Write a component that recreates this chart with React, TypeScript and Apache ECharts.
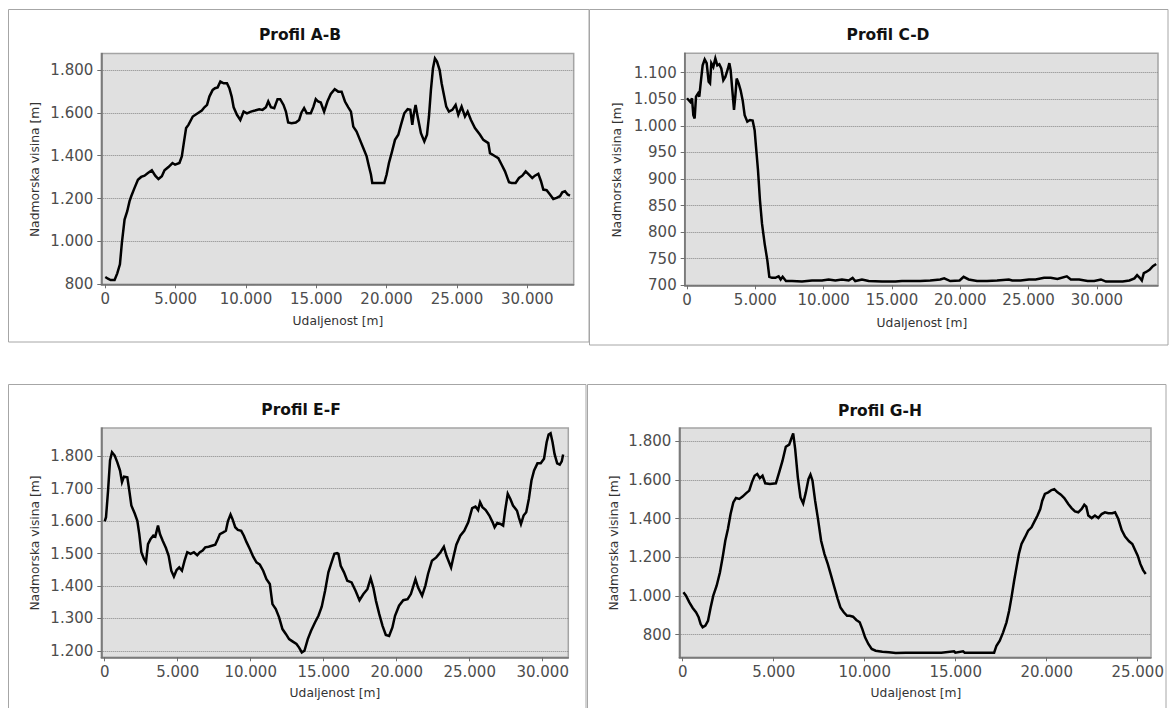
import React, { useEffect, useRef } from "react";
import * as echarts from "echarts";

// ---------- DATA ----------
const abDist = [0,190,380,660,850,1040,1180,1370,1560,1725,1845,2080,2320,2550,2790,3030,3310,3550,3780,4020,4210,4490,4775,4965,5270,5440,5580,5745,5910,6220,6570,6860,7045,7235,7400,7635,7800,7990,8180,8415,8650,8820,8985,9125,9360,9600,9835,10070,10355,10640,10945,11180,11420,11585,11775,12010,12245,12435,12670,12840,13000,13240,13545,13780,13950,14135,14325,14610,14800,14965,15130,15320,15555,15790,16030,16310,16560,16800,17040,17275,17465,17630,17865,18105,18340,18580,18745,18885,18980,19405,19835,20000,20165,20355,20595,20830,21020,21255,21495,21685,21825,21920,22060,22205,22440,22680,22870,23010,23150,23295,23435,23580,23770,23910,24050,24240,24430,24670,24905,25095,25330,25570,25760,25995,26280,26640,26875,27230,27350,27655,27940,28180,28415,28700,28885,29170,29410,29645,29885,30120,30355,30545,30785,30975,31140,31375,31615,31850,32085,32325,32490,32680,32870,33035];
const abElev = [834,826,820,820,851,893,994,1102,1141,1188,1211,1250,1288,1301,1307,1319,1332,1307,1291,1304,1332,1347,1366,1358,1366,1397,1459,1529,1544,1583,1598,1611,1626,1637,1676,1707,1715,1719,1746,1738,1738,1715,1676,1626,1591,1567,1606,1598,1606,1611,1617,1614,1626,1653,1626,1622,1664,1664,1637,1606,1555,1552,1555,1567,1602,1622,1598,1598,1629,1664,1653,1648,1606,1653,1688,1710,1699,1699,1653,1626,1606,1536,1513,1474,1436,1397,1350,1312,1273,1273,1273,1312,1366,1412,1474,1498,1544,1598,1617,1614,1544,1591,1637,1583,1505,1467,1498,1583,1707,1808,1854,1839,1800,1738,1691,1629,1606,1614,1637,1591,1629,1583,1606,1567,1529,1498,1474,1459,1412,1400,1389,1358,1327,1276,1273,1273,1296,1307,1327,1312,1296,1307,1316,1281,1242,1239,1219,1198,1203,1211,1229,1234,1219,1214];

const cdDist = [0,245,365,465,560,660,805,900,1000,1145,1295,1440,1585,1685,1780,1925,2075,2220,2365,2510,2660,2805,3000,3100,3195,3295,3440,3535,3635,3780,3925,4075,4220,4415,4610,4805,4950,5050,5195,5340,5490,5685,5880,6025,6220,6465,6705,6855,7000,7245,7685,8415,9145,9880,10365,10855,11340,11830,12120,12315,12805,13295,14270,15245,15730,17060,17795,18530,18825,19265,19950,20245,20615,21225,21960,22695,23555,23800,24410,25025,25515,26130,26620,27110,27795,28090,28700,29315,29805,30295,30660,31275,31885,32375,32745,32940,33135,33285,33430,33605,33850,34095,34340];
const cdElev = [1052,1045,1052,1020,1014,1055,1061,1055,1080,1114,1125,1118,1083,1080,1118,1111,1127,1114,1116,1108,1086,1092,1108,1118,1105,1074,1030,1055,1089,1080,1067,1048,1020,1008,1011,1010,992,961,917,860,816,778,747,716,714,714,717,711,716,708,708,707,709,709,711,709,711,709,714,708,711,708,707,707,708,708,709,711,713,708,709,716,711,708,708,709,711,709,709,711,711,714,714,712,717,711,711,708,708,711,707,707,707,709,713,719,714,709,723,725,729,736,740];

const efDist = [0,90,230,365,500,685,865,1050,1185,1320,1550,1685,1825,2050,2235,2370,2510,2690,2825,2965,3145,3330,3465,3650,3785,3965,4195,4380,4560,4740,4925,5105,5290,5470,5655,5880,6110,6340,6520,6705,6885,7115,7340,7570,7750,7890,8115,8300,8435,8620,8755,8940,9120,9350,9530,9715,9940,10170,10395,10625,10855,11080,11310,11490,11720,11945,12175,12405,12630,12860,13135,13315,13500,13680,13910,14135,14410,14640,14865,15095,15320,15505,15730,15915,16005,16165,16390,16615,16910,17180,17450,17720,17990,18215,18400,18580,18805,19030,19255,19480,19705,19885,20160,20450,20745,20970,21130,21285,21465,21740,21965,22145,22415,22710,23000,23230,23410,23725,23905,24085,24355,24625,24900,25170,25395,25575,25710,25870,26095,26345,26570,26705,26885,27110,27290,27425,27605,27785,27965,28240,28375,28510,28690,28870,29050,29230,29410,29640,29865,30090,30270,30405,30540,30675,30810,30990,31170,31305,31400];
const efElev = [1599,1612,1694,1787,1812,1802,1781,1756,1720,1737,1735,1694,1648,1624,1601,1560,1504,1483,1473,1529,1545,1555,1552,1586,1560,1540,1517,1493,1447,1429,1449,1457,1447,1478,1504,1499,1504,1495,1504,1509,1519,1521,1524,1527,1545,1560,1565,1570,1599,1620,1606,1581,1573,1570,1555,1535,1514,1490,1473,1466,1447,1421,1406,1344,1329,1303,1267,1252,1236,1229,1221,1210,1195,1200,1236,1262,1288,1308,1336,1385,1442,1468,1499,1501,1499,1462,1442,1416,1411,1385,1356,1375,1390,1424,1395,1354,1313,1277,1249,1246,1272,1308,1339,1356,1359,1375,1398,1421,1395,1370,1401,1437,1478,1488,1504,1521,1493,1457,1493,1527,1555,1570,1596,1640,1645,1634,1658,1643,1634,1617,1596,1581,1594,1591,1586,1632,1684,1668,1648,1632,1610,1591,1617,1627,1668,1725,1756,1778,1778,1792,1843,1867,1871,1843,1807,1778,1774,1784,1805];

const ghDist = [40,180,365,550,730,875,985,1095,1245,1390,1535,1680,1865,2045,2195,2340,2485,2630,2780,2925,3110,3290,3475,3655,3800,3950,4095,4240,4385,4535,4790,5120,5300,5485,5665,5850,5960,6070,6180,6325,6470,6620,6765,6910,7020,7130,7275,7420,7605,7790,7970,8155,8335,8520,8665,8850,9030,9175,9360,9540,9725,9870,10020,10200,10385,10600,10970,11335,11700,12250,12750,13480,14210,14910,14980,15405,15495,16415,17110,17240,17420,17605,17790,17935,18065,18210,18340,18470,18615,18800,18980,19165,19350,19495,19645,19755,19900,20085,20265,20415,20595,20780,20965,21185,21365,21550,21735,21920,22065,22175,22285,22470,22650,22835,23020,23200,23385,23605,23755,23935,24120,24305,24525,24705,24855,25000,25145,25295,25440];
const ghElev = [1019,1002,967,938,916,890,855,838,847,872,941,1002,1053,1122,1200,1286,1347,1424,1484,1507,1502,1514,1531,1545,1588,1622,1631,1610,1622,1583,1579,1583,1640,1700,1772,1783,1812,1841,1760,1614,1510,1479,1536,1605,1628,1597,1493,1407,1286,1217,1166,1105,1045,984,941,916,898,898,893,876,864,829,786,752,726,717,712,709,705,707,707,707,707,714,707,714,707,707,707,743,769,812,864,924,993,1079,1148,1217,1269,1303,1338,1355,1390,1416,1450,1493,1528,1536,1548,1553,1536,1524,1507,1476,1455,1438,1433,1450,1472,1462,1416,1403,1416,1403,1424,1433,1428,1428,1433,1398,1341,1307,1283,1269,1238,1209,1166,1134,1114];

const abYTicks = [800, 1000, 1200, 1400, 1600, 1800];
const cdYTicks = [700, 750, 800, 850, 900, 950, 1000, 1050, 1100];
const efYTicks = [1200, 1300, 1400, 1500, 1600, 1700, 1800];
const ghYTicks = [800, 1000, 1200, 1400, 1600, 1800];
const xTicks30 = [0, 5000, 10000, 15000, 20000, 25000, 30000];
const xTicks25 = [0, 5000, 10000, 15000, 20000, 25000];

const titles = ["Profil A-B", "Profil C-D", "Profil E-F", "Profil G-H"];
const yName = "Nadmorska visina [m]";
const xName = "Udaljenost [m]";

// ---------- LAYOUT ----------
const panels = [
  {
    title: titles[0], dist: abDist, elev: abElev, xTicks: xTicks30, yTicks: abYTicks,
    xMin: -284, xMax: 33300, yMin: 800, yMax: 1877,
    grid: { left: 101.3, top: 53.5, width: 472.4, height: 230.8 },
    frame: { x: 8.5, y: 9.5, width: 580.5, height: 332.5 },
    titlePos: [300, 35], yNamePos: [35, 169.5], xNamePos: [338, 321],
  },
  {
    title: titles[1], dist: cdDist, elev: cdElev, xTicks: xTicks30, yTicks: cdYTicks,
    xMin: -168, xMax: 34470, yMin: 700, yMax: 1136.6,
    grid: { left: 684.7, top: 53.3, width: 473.3, height: 232 },
    frame: { x: 589.5, y: 9.5, width: 578.5, height: 335.5 },
    titlePos: [888, 35], yNamePos: [617, 170], xNamePos: [922, 323],
  },
  {
    title: titles[2], dist: efDist, elev: efElev, xTicks: xTicks30, yTicks: efYTicks,
    xMin: -233, xMax: 31753, yMin: 1180, yMax: 1887,
    grid: { left: 101.3, top: 428, width: 467, height: 229.3 },
    frame: { x: 8.5, y: 384.5, width: 577.5, height: 340 },
    titlePos: [301, 410], yNamePos: [35, 543], xNamePos: [335, 693],
  },
  {
    title: titles[3], dist: ghDist, elev: ghElev, xTicks: xTicks25, yTicks: ghYTicks,
    xMin: -187, xMax: 25730, yMin: 683, yMax: 1869,
    grid: { left: 679.3, top: 428, width: 471.7, height: 229.3 },
    frame: { x: 587.5, y: 384.5, width: 578.5, height: 340 },
    titlePos: [880, 410.5], yNamePos: [614, 543], xNamePos: [916, 693],
  },
];

const FONT = '"DejaVu Sans", "Liberation Sans", Arial, sans-serif';
const fmt = (v: number) => String(Math.round(v)).replace(/\B(?=(\d{3})+(?!\d))/g, ".");

export default function App() {
  const ref = useRef<HTMLDivElement>(null);

  useEffect(() => {
    if (!ref.current) return;
    const chart = echarts.init(ref.current, undefined, { renderer: "svg" });

    const axisColor = "#6e6e6e";
    const labelStyle = { fontFamily: FONT, fontSize: 15, color: "#4d4d4d" };

    const grids = panels.map((p) => ({
      ...p.grid,
      show: true,
      backgroundColor: "#e0e0e0",
      borderColor: "#a4a4a4",
      borderWidth: 1.5,
      containLabel: false,
      outerBoundsMode: "none",
    }));

    const xAxes = panels.map((p, i) => ({
      type: "value",
      gridIndex: i,
      min: p.xMin,
      max: p.xMax,
      axisLine: { show: true, onZero: false, lineStyle: { color: axisColor, width: 1.5 } },
      axisTick: { show: true, customValues: p.xTicks, length: 4, lineStyle: { color: axisColor } },
      axisLabel: { ...labelStyle, customValues: p.xTicks, formatter: fmt, margin: 7 },
      splitLine: { show: false },
    }));

    const yAxes = panels.map((p, i) => ({
      type: "value",
      gridIndex: i,
      min: p.yMin,
      max: p.yMax,
      axisLine: { show: true, onZero: false, lineStyle: { color: axisColor, width: 1.5 } },
      axisTick: { show: true, customValues: p.yTicks, length: 4, lineStyle: { color: axisColor } },
      axisLabel: { ...labelStyle, customValues: p.yTicks, formatter: fmt, margin: 8 },
      splitLine: { show: true, lineStyle: { color: "#868686", type: "dotted", width: 1 } },
    }));

    const series = panels.map((p, i) => ({
      type: "line",
      xAxisIndex: i,
      yAxisIndex: i,
      data: p.dist.map((d, j) => [d, p.elev[j]]),
      symbol: "none",
      showSymbol: false,
      silent: true,
      clip: true,
      lineStyle: { color: "#000000", width: 2.5, join: "miter" },
    }));

    const graphics: any[] = [];
    panels.forEach((p) => {
      graphics.push({
        type: "rect",
        silent: true,
        z: -10,
        shape: { ...p.frame },
        style: { fill: "none", stroke: "#a6a6a6", lineWidth: 1 },
      });
      graphics.push({
        type: "text",
        x: p.titlePos[0],
        y: p.titlePos[1],
        silent: true,
        style: {
          text: p.title,
          fontFamily: FONT,
          fontSize: 15.5,
          fontWeight: "bold",
          fill: "#111111",
          align: "center",
          verticalAlign: "middle",
        },
      });
      graphics.push({
        type: "text",
        x: p.yNamePos[0],
        y: p.yNamePos[1],
        rotation: Math.PI / 2,
        silent: true,
        style: {
          text: yName,
          fontFamily: FONT,
          fontSize: 12.3,
          fill: "#333333",
          align: "center",
          verticalAlign: "middle",
        },
      });
      graphics.push({
        type: "text",
        x: p.xNamePos[0],
        y: p.xNamePos[1],
        silent: true,
        style: {
          text: xName,
          fontFamily: FONT,
          fontSize: 12.3,
          fill: "#333333",
          align: "center",
          verticalAlign: "middle",
        },
      });
    });

    chart.setOption({
      animation: false,
      backgroundColor: "#ffffff",
      grid: grids,
      xAxis: xAxes,
      yAxis: yAxes,
      series,
      graphic: graphics,
    } as any);

    return () => chart.dispose();
  }, []);

  return (
    <div
      ref={ref}
      style={{ position: "absolute", left: 0, top: 0, width: 1170, height: 708, background: "#fff" }}
    />
  );
}
